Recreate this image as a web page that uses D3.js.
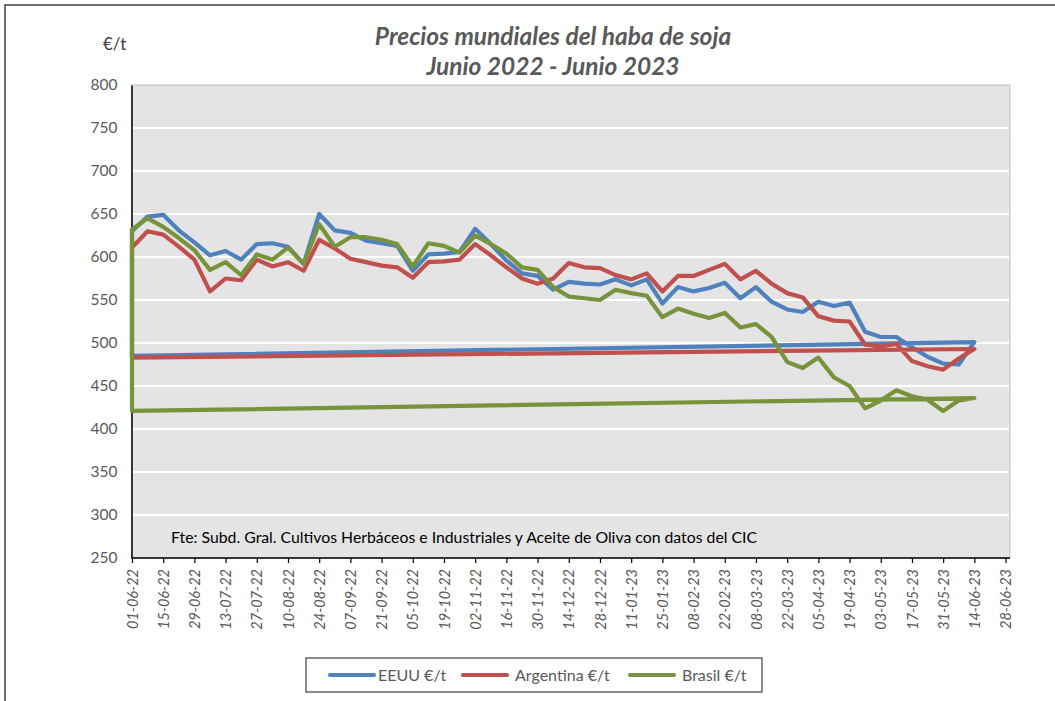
<!DOCTYPE html>
<html>
<head>
<meta charset="utf-8">
<script src="https://cdn.jsdelivr.net/npm/d3@7/dist/d3.min.js"></script>
<style>
  html, body { margin: 0; padding: 0; background: #fff; }
  svg { display: block; }
</style>
</head>
<body>
<svg id="chart" width="1055" height="701"></svg>
<script>
// ---- data ----
const dates = [
  "01-06-22","08-06-22","15-06-22","22-06-22","29-06-22","06-07-22","13-07-22","20-07-22","27-07-22",
  "03-08-22","10-08-22","17-08-22","24-08-22","31-08-22","07-09-22","14-09-22","21-09-22","28-09-22",
  "05-10-22","12-10-22","19-10-22","26-10-22","02-11-22","09-11-22","16-11-22","23-11-22","30-11-22",
  "07-12-22","14-12-22","21-12-22","28-12-22","04-01-23","11-01-23","18-01-23","25-01-23","01-02-23",
  "08-02-23","15-02-23","22-02-23","01-03-23","08-03-23","15-03-23","22-03-23","29-03-23","05-04-23",
  "12-04-23","19-04-23","26-04-23","03-05-23","10-05-23","17-05-23","24-05-23","31-05-23","07-06-23","14-06-23"
];
const eeuu = [630,647,649,631,617,602,607,597,615,616,612,592,650,631,628,619,616,613,584,
              603,604,606,633,615,596,581,578,562,571,569,568,574,567,574,546,565,560,564,
              570,552,565,548,539,536,548,543,547,513,507,507,495,484,476,475,501];
const argentina = [611,630,626,612,597,560,575,573,597,589,594,584,620,610,598,594,590,588,576,
              594,595,597,615,602,588,575,569,575,593,588,587,579,574,581,560,578,578,585,
              592,574,584,569,558,553,531,526,525,498,496,499,479,473,469,482,493];
const brasil = [632,645,635,622,608,585,594,579,603,597,611,592,638,612,623,623,620,615,589,
              616,613,605,625,615,604,588,585,565,554,552,550,562,558,555,530,540,534,529,
              535,518,522,507,478,471,483,460,450,424,433,445,438,434,421,433,436];
// closing point of each series (plotted back at the first date)
const closingValues = [485, 483, 421];
const seriesNames = ["EEUU €/t", "Argentina €/t", "Brasil €/t"];
const seriesColors = ["#4f81bd", "#c0504d", "#77933c"];
const xTickLabels = [
  "01-06-22","15-06-22","29-06-22","13-07-22","27-07-22","10-08-22","24-08-22","07-09-22","21-09-22",
  "05-10-22","19-10-22","02-11-22","16-11-22","30-11-22","14-12-22","28-12-22","11-01-23","25-01-23",
  "08-02-23","22-02-23","08-03-23","22-03-23","05-04-23","19-04-23","03-05-23","17-05-23","31-05-23",
  "14-06-23","28-06-23"
];
const yTicks = [250,300,350,400,450,500,550,600,650,700,750,800];
const titleLines = ["Precios mundiales del haba de soja", "Junio 2022 - Junio 2023"];
const unitLabel = "€/t";
const sourceNote = "Fte: Subd. Gral. Cultivos Herbáceos e Industriales y Aceite de Oliva con datos del CIC";

// ---- drawing ----
(function () {
const parse = d3.utcParse("%d-%m-%y");
const svg = d3.select("#chart");
const FONT = "Lato, 'Open Sans', sans-serif";
const pLeft = 131.5, pRight = 1010, pTop = 85, pBottom = 558;

const x = d3.scaleUtc()
  .domain([parse("01-06-22"), parse("30-06-23")])
  .range([132, pRight]);
const y = d3.scaleLinear().domain([250, 800]).range([pBottom, pTop]);

// outer border
svg.append("rect").attr("x", 5).attr("y", 5).attr("width", 1070).attr("height", 720)
  .attr("fill", "#fff").attr("stroke", "#404040").attr("stroke-width", 1.5);

// plot background
svg.append("rect").attr("x", pLeft).attr("y", pTop).attr("width", pRight - pLeft).attr("height", pBottom - pTop)
  .attr("fill", "#e4e4e4").attr("stroke", "#bfbfbf").attr("stroke-width", 1);

// gridlines
svg.append("g").selectAll("line").data(yTicks.filter(v => v > 250 && v < 800)).join("line")
  .attr("x1", pLeft + 1).attr("x2", pRight - 1)
  .attr("y1", d => y(d)).attr("y2", d => y(d))
  .attr("stroke", "#ffffff").attr("stroke-width", 2);

// y axis
const yAxis = svg.append("g").attr("transform", `translate(${pLeft},0)`)
  .call(d3.axisLeft(y).tickValues(yTicks).tickSize(0).tickPadding(14));
yAxis.select(".domain").attr("stroke", "#000").attr("stroke-width", 1.5);
yAxis.selectAll("text").attr("font-family", FONT).attr("font-size", "15.5px").attr("fill", "#595959");

// x axis
const xAxis = svg.append("g").attr("transform", `translate(0,${pBottom})`)
  .call(d3.axisBottom(x).tickValues(xTickLabels.map(parse)).tickSize(5)
        .tickFormat(d3.utcFormat("%d-%m-%y")));
xAxis.select(".domain").attr("stroke", "#000").attr("stroke-width", 1.5)
  .attr("d", `M${pLeft},0H${pRight}`);
xAxis.selectAll(".tick line").attr("stroke", "#000").attr("stroke-width", 1.2);
xAxis.selectAll("text")
  .attr("font-family", FONT).attr("font-size", "14.5px").attr("font-style", "italic").attr("fill", "#595959")
  .attr("transform", "rotate(-90)")
  .attr("text-anchor", "end")
  .attr("x", -11).attr("y", 0).attr("dy", "0.35em");

// series lines
const seriesValues = [eeuu, argentina, brasil];
const line = d3.line().x(d => x(d[0])).y(d => y(d[1])).curve(d3.curveLinear);
seriesValues.forEach((vals, k) => {
  const pts = dates.map((d, i) => [parse(d), vals[i]]);
  pts.push([parse(dates[0]), closingValues[k]]);
  pts.push(pts[0]);
  svg.append("path").datum(pts)
    .attr("d", line)
    .attr("fill", "none")
    .attr("stroke", seriesColors[k])
    .attr("stroke-width", 4.2)
    .attr("stroke-linejoin", "round")
    .attr("stroke-linecap", "round");
});

// title
svg.append("g").selectAll("text").data(titleLines).join("text")
  .attr("x", 553).attr("y", (d, i) => 45 + i * 30)
  .attr("text-anchor", "middle")
  .attr("font-family", FONT).attr("font-size", "24.5px").attr("font-weight", "bold").attr("font-style", "italic")
  .attr("fill", "#595959")
  .text(d => d);

// unit
svg.append("text").attr("x", 103).attr("y", 50)
  .attr("font-family", FONT).attr("font-size", "17px").attr("fill", "#404040").text(unitLabel);

// source note
svg.append("text").attr("x", 171).attr("y", 543)
  .attr("font-family", FONT).attr("font-size", "15.8px").attr("fill", "#000").text(sourceNote);

// legend
const lg = svg.append("g");
lg.append("rect").attr("x", 306).attr("y", 658).attr("width", 456).attr("height", 34)
  .attr("fill", "#fff").attr("stroke", "#404040").attr("stroke-width", 1.2);
const legendX = [330, 463, 630];
seriesNames.forEach((name, k) => {
  lg.append("line").attr("x1", legendX[k]).attr("x2", legendX[k] + 44)
    .attr("y1", 675).attr("y2", 675)
    .attr("stroke", seriesColors[k]).attr("stroke-width", 4.2).attr("stroke-linecap", "round");
  lg.append("text").attr("x", legendX[k] + (k === 0 ? 48 : 52)).attr("y", 675).attr("dy", "0.35em")
    .attr("font-family", FONT).attr("font-size", "16px").attr("fill", "#595959").text(name);
});
})();
</script>
</body>
</html>
